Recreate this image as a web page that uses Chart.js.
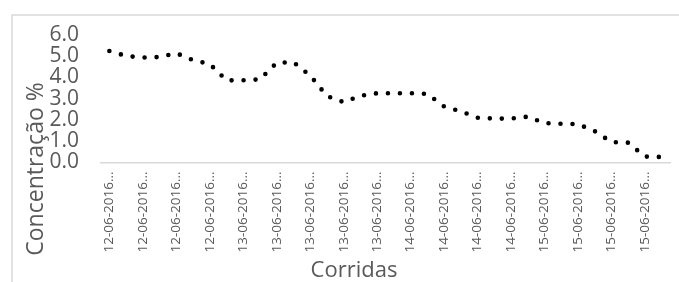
<!DOCTYPE html>
<html>
<head>
<meta charset="utf-8">
<script src="https://cdn.jsdelivr.net/npm/chart.js@4"></script>
<style>
  body { margin: 0; background: #fff; }
  #wrap { position: relative; width: 679px; height: 282px; overflow: hidden; }
</style>
</head>
<body>
<div id="wrap"><canvas id="myChart" width="679" height="282"></canvas></div>
<script>
// run dates (labels get cut off with an ellipsis like in the original)
const dates = [
  '12-06-2016', '12-06-2016', '12-06-2016', '12-06-2016', '12-06-2016', '12-06-2016', '12-06-2016', '12-06-2016',
  '13-06-2016', '13-06-2016', '13-06-2016', '13-06-2016', '13-06-2016', '13-06-2016', '13-06-2016', '13-06-2016',
  '13-06-2016', '13-06-2016', '14-06-2016', '14-06-2016', '14-06-2016', '14-06-2016', '14-06-2016', '14-06-2016',
  '14-06-2016', '14-06-2016', '15-06-2016', '15-06-2016', '15-06-2016', '15-06-2016', '15-06-2016', '15-06-2016',
  '15-06-2016', '15-06-2016'
];
const concentracao = [
  5.23, 5.0, 4.92, 4.95, 5.13, 4.8, 4.62, 3.85, 3.86, 3.9, 4.68, 4.7,
  4.08, 3.12, 2.83, 3.13, 3.25, 3.25, 3.25, 3.22, 2.63, 2.4, 2.1, 2.06,
  2.06, 2.15, 1.85, 1.82, 1.8, 1.47, 0.96, 0.93, 0.28, 0.26
];
const yTicks = [0, 1, 2, 3, 4, 5, 6];

const textColor = '#595959';
const fontFamily = "'Open Sans', sans-serif";

// frame + axis titles drawn by hand so they sit where Excel put them
const extras = {
  id: 'extras',
  beforeDraw(chart) {
    const c = chart.ctx;
    c.save();
    c.strokeStyle = '#d9d9d9';
    c.lineWidth = 1.5;
    c.strokeRect(12, 15, 800, 400);
    c.restore();
  },
  afterDraw(chart) {
    const c = chart.ctx;
    c.save();
    c.fillStyle = textColor;
    c.font = '23px ' + fontFamily;
    c.textAlign = 'center';
    c.textBaseline = 'alphabetic';
    c.translate(43, 169);
    c.rotate(-Math.PI / 2);
    c.fillText('Concentração %', 0, 0);
    c.restore();

    c.save();
    c.fillStyle = textColor;
    c.font = '22px ' + fontFamily;
    c.textAlign = 'center';
    c.textBaseline = 'alphabetic';
    c.fillText('Corridas', 354, 277);
    c.restore();
  }
};

const ctx = document.getElementById('myChart').getContext('2d');

const myChart = new Chart(ctx, {
    type: 'line',
    data: {
        labels: dates,
        datasets: [{
            label: 'Concentração %',
            data: concentracao,
            borderColor: '#000000',
            borderWidth: 4.6,
            borderDash: [0, 12],
            borderCapStyle: 'round',
            borderJoinStyle: 'round',
            pointRadius: 0,
            tension: 0,
            fill: false
        }]
    },
    options: {
        responsive: false,
        devicePixelRatio: 1,
        animation: false,
        layout: {
            padding: { left: 0, right: 9, top: 33, bottom: 0 }
        },
        plugins: {
            legend: { display: false },
            tooltip: { enabled: false }
        },
        scales: {
            y: {
                min: 0,
                max: 6,
                afterFit(scale) { scale.width = 101; },
                afterBuildTicks(scale) { scale.ticks = yTicks.map(v => ({ value: v })); },
                grid: { display: false, drawTicks: false },
                border: { display: false },
                ticks: {
                    autoSkip: false,
                    padding: 22,
                    color: textColor,
                    font: { family: fontFamily, size: 21 },
                    callback: v => v.toFixed(1)
                }
            },
            x: {
                offset: true,
                afterFit(scale) { scale.height = 119.5; },
                grid: { display: true, drawOnChartArea: false, drawTicks: false, color: 'rgba(0,0,0,0)' },
                border: { display: true, color: '#d9d9d9', width: 1.5 },
                ticks: {
                    autoSkip: false,
                    maxRotation: 90,
                    minRotation: 90,
                    padding: 9,
                    color: textColor,
                    font: { family: fontFamily, size: 13.5 },
                    callback: function (value, index) {
                        return index % 2 === 0 ? this.getLabelForValue(value) + '…' : null;
                    }
                }
            }
        }
    },
    plugins: [extras]
});
</script>
</body>
</html>
